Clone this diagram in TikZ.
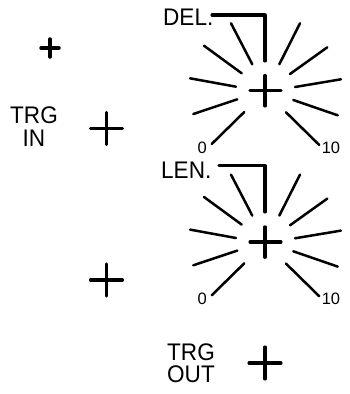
\documentclass[tikz,border=0pt]{standalone}
\usepackage{fontspec}
\setmainfont{Liberation Sans}
\tikzset{
    leadline/.style={draw,line width=3.1pt,line cap=round,line join=round},
    tick/.style={line width=2.5pt,line cap=round},
    panel/.style={font=\fontsize{24}{22.5}\selectfont,align=center,inner sep=0pt,xscale=0.94,transform shape},
    scalemark/.style={font=\fontsize{16.5}{16.5}\selectfont,inner sep=0pt}
}
\begin{document}
\begin{tikzpicture}[x=1pt,y=-1pt]
    \useasboundingbox (0,0) rectangle (350,394);
    % sockets
    \draw[line width=3.5pt,line cap=round] (41,48) -- (59,48);
    \draw[line width=3.5pt,line cap=round] (50,39) -- (50,57);
    \foreach \px/\py in {106.5/128.5,106.5/280,265/363} {
        \path[leadline] (\px-16,\py) -- (\px+16,\py);
        \path[leadline] (\px,\py-16) -- (\px,\py+16);
    }
    % two dials
    \foreach \dy in {0,151.3} {
        \begin{scope}[yshift=-\dy pt]
            \path[leadline] (250,90.7) -- (281,90.7);
            \path[leadline] (265,75.5) -- (265,106);
            \draw[tick] (211.7,144) -- (244.3,112);
            \draw[tick] (193.3,114) -- (237.3,99.3);
            \draw[tick] (190,78.3) -- (236,86.7);
            \draw[tick] (204,45.7) -- (241.7,73.3);
            \draw[tick] (231,23.3) -- (252.3,64.3);
            \draw[tick] (300,23.3) -- (279.3,64.3);
            \draw[tick] (327.3,47.3) -- (290,74);
            \draw[tick] (341,79.3) -- (295,87);
            \draw[tick] (337.7,115.3) -- (293.3,100);
            \draw[tick] (319.3,145) -- (286,112.3);
        \end{scope}
    }
    \path[leadline] (212,15) -- (265,15) -- (265,61);
    \path[leadline] (219,165.7) -- (265,165.7) -- (265,212);
    % labels
    \node[panel] (trgin) at (34,126.5) {TRG\\IN};
    \node[panel] (trgout) at (191,363) {TRG\\OUT};
    \node[panel,anchor=west] (del) at (163,17.5) {DEL.};
    \node[panel,anchor=west] (len) at (161,170) {LEN.};
    \node[scalemark] (zeroa) at (202.3,148) {0};
    \node[scalemark] (tena) at (331,148) {10};
    \node[scalemark] (zerob) at (202.3,299) {0};
    \node[scalemark] (tenb) at (331,299) {10};
\end{tikzpicture}
\end{document}
